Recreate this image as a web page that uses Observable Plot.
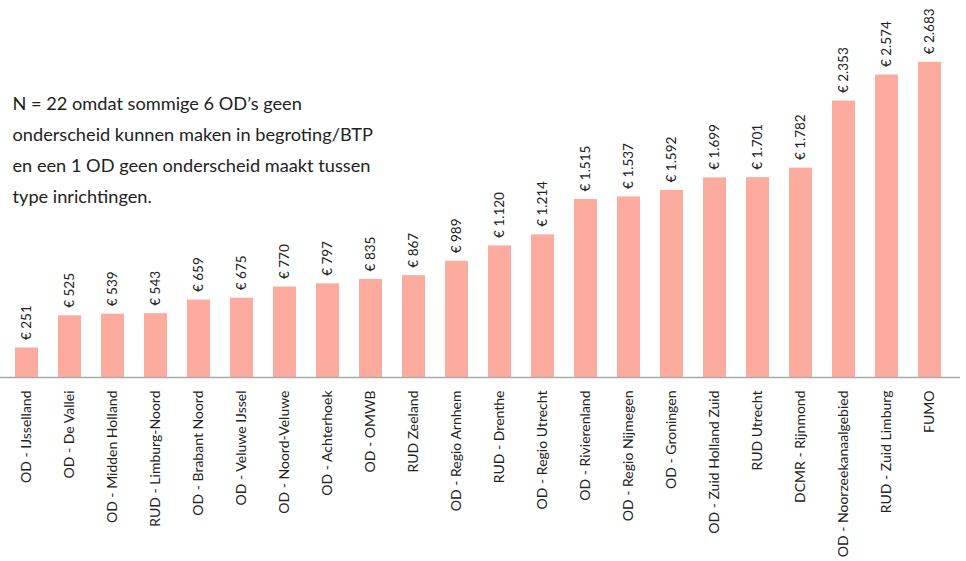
<!DOCTYPE html>
<html>
<head>
<meta charset="utf-8">
<script src="https://cdn.jsdelivr.net/npm/d3@7"></script>
<script src="https://cdn.jsdelivr.net/npm/@observablehq/plot@0.6"></script>
<style>
  html, body { margin: 0; padding: 0; background: #fff; }
  #chart { width: 966px; height: 561px; }
</style>
</head>
<body>
<div id="chart"></div>
<script>
const categories = [
  "OD - IJsselland", "OD - De Vallei", "OD - Midden Holland", "RUD - Limburg-Noord",
  "OD - Brabant Noord", "OD - Veluwe IJssel", "OD - Noord-Veluwe", "OD - Achterhoek",
  "OD - OMWB", "RUD Zeeland", "OD - Regio Arnhem", "RUD - Drenthe",
  "OD - Regio Utrecht", "OD - Rivierenland", "OD - Regio Nijmegen", "OD - Groningen",
  "OD - Zuid Holland Zuid", "RUD Utrecht", "DCMR - Rijnmond", "OD - Noorzeekanaalgebied",
  "RUD - Zuid Limburg", "FUMO"
];
const values = [251, 525, 539, 543, 659, 675, 770, 797, 835, 867, 989, 1120,
  1214, 1515, 1537, 1592, 1699, 1701, 1782, 2353, 2574, 2683];
const note = "N = 22 omdat sommige 6 OD’s geen\nonderscheid kunnen maken in begroting/BTP\nen een 1 OD geen onderscheid maakt tussen\ntype inrichtingen.";

const data = categories.map((c, i) => ({name: c, value: values[i]}));
const fmt = v => "€ " + d3.format(",")(v).replace(/,/g, ".");
const font = "Lato, 'Open Sans', sans-serif";

const chart = Plot.plot({
  width: 966,
  height: 561,
  marginTop: 24.5,
  marginBottom: 184,
  marginLeft: 11,
  marginRight: 21,
  style: {fontFamily: font, color: "#222", background: "#fff"},
  x: {domain: categories, paddingInner: 0.47, paddingOuter: 0, label: null},
  y: {domain: [0, 3000], axis: null, label: null},
  marks: [
    Plot.barY(data, {x: "name", y: "value", fill: "#fcab9e"}),
    Plot.ruleY([0], {stroke: "#aaa", strokeWidth: 1.3, insetLeft: -11, insetRight: -15}),
    Plot.text(data, {
      x: "name", y: "value", text: d => fmt(d.value),
      rotate: -90, textAnchor: "start", dy: -8, fontSize: 13.5, fill: "#222"
    }),
    Plot.axisX({tickRotate: -90, tickSize: 0, tickPadding: 13, fontSize: 14, label: null, stroke: "none"}),
    Plot.text([note], {
      frameAnchor: "top-left", textAnchor: "start", lineAnchor: "top",
      dx: 1, dy: 63, fontSize: 18.2, lineHeight: 1.7, fill: "#222"
    })
  ]
});
document.getElementById("chart").appendChild(chart);
</script>
</body>
</html>
